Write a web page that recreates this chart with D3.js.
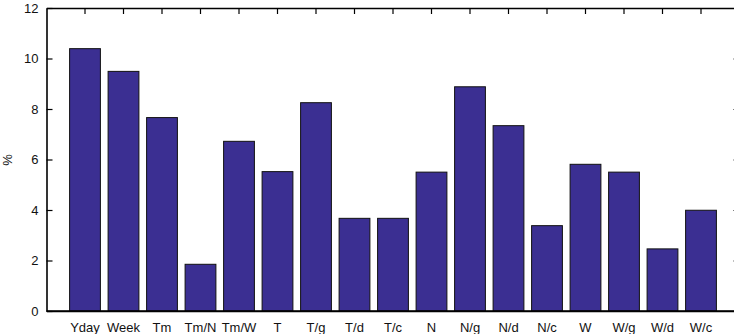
<!DOCTYPE html>
<html>
	<head>
		<style>
		body {
			margin: 0;
			background: #fff;
		}

		svg text {
			font-family: "Liberation Sans", Arial, sans-serif;
			font-size: 13px;
			fill: #111;
		}

		.axis path, .axis line {
			stroke: #000;
		}

		rect.bar {
			fill: #3b2f92;
			stroke: #111;
			stroke-width: 1px;
		}
		</style>
		<script src="https://d3js.org/d3.v7.min.js"></script>
	</head>
	<body>
		<svg id="chart" width="734" height="334"></svg>

		<script>
		var categories = ['Yday', 'Week', 'Tm', 'Tm/N', 'Tm/W', 'T', 'T/g', 'T/d', 'T/c',
			'N', 'N/g', 'N/d', 'N/c', 'W', 'W/g', 'W/d', 'W/c'];
		var values = [10.39, 9.49, 7.66, 1.85, 6.72, 5.52, 8.25, 3.67, 3.67,
			5.5, 8.88, 7.34, 3.38, 5.81, 5.5, 2.46, 3.99];
		var yTicks = [0, 2, 4, 6, 8, 10, 12];
		var yLabel = '%';

		function drawChart () {
			var svg = d3.select('#chart'),
				plotLeft = 46.5,
				plotRight = 739.5,
				plotTop = 8,
				plotBottom = 311;

			var x = d3.scaleBand()
				.domain(categories)
				.range([plotLeft, plotRight])
				.paddingInner(0.2)
				.paddingOuter(0.6);

			var y = d3.scaleLinear().domain([0, 12]).range([plotBottom, plotTop]);

			// inward ticks, gnuplot style
			var bottomAxis = d3.axisBottom(x).tickSize(-6).tickSizeOuter(0).tickPadding(12),
				topAxis = d3.axisTop(x).tickSize(-6).tickSizeOuter(0).tickFormat(''),
				leftAxis = d3.axisLeft(y).tickValues(yTicks).tickSize(-6).tickSizeOuter(0).tickPadding(8),
				rightAxis = d3.axisRight(y).tickValues(yTicks).tickSize(-6).tickSizeOuter(0).tickFormat('');

			svg.append('g').attr('class', 'axis')
				.attr('transform', 'translate(0,' + plotBottom + ')')
				.call(bottomAxis);
			svg.append('g').attr('class', 'axis')
				.attr('transform', 'translate(0,' + plotTop + ')')
				.call(topAxis);
			svg.append('g').attr('class', 'axis')
				.attr('transform', 'translate(' + plotLeft + ',0)')
				.call(leftAxis);
			svg.append('g').attr('class', 'axis')
				.attr('transform', 'translate(' + plotRight + ',0)')
				.call(rightAxis);

			svg.selectAll('.axis path').attr('stroke-width', 1.6);
			svg.selectAll('.axis line').attr('stroke-width', 1.2);
			svg.selectAll('.axis text').attr('font-size', 13).attr('font-family', '"Liberation Sans", Arial, sans-serif');

			svg.append('g').selectAll('rect')
				.data(values)
				.enter()
				.append('rect')
				.attr('class', 'bar')
				.attr('x', function (d, i) { return x(categories[i]); })
				.attr('y', function (d) { return y(d); })
				.attr('width', x.bandwidth())
				.attr('height', function (d) { return y(0) - y(d); });

			// redraw the bottom line over the bars
			svg.append('line')
				.attr('x1', plotLeft).attr('x2', plotRight)
				.attr('y1', plotBottom).attr('y2', plotBottom)
				.attr('stroke', '#000').attr('stroke-width', 1.6);

			svg.append('text')
				.attr('transform', 'translate(12,160) rotate(-90)')
				.attr('text-anchor', 'middle')
				.attr('font-size', 12)
				.text(yLabel);
		}

		drawChart();
		</script>
	</body>
</html>
